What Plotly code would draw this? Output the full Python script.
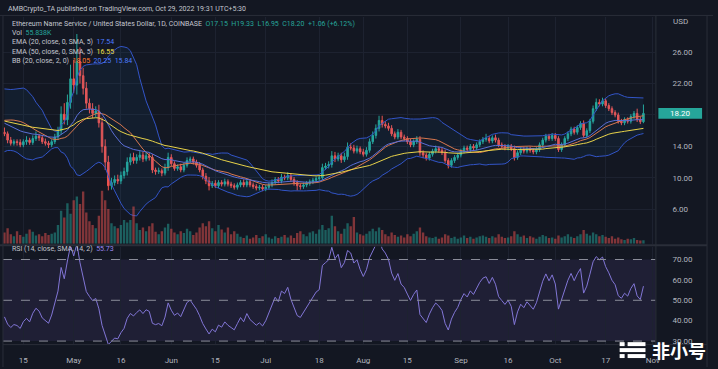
import pandas as pd
import numpy as np
import plotly.graph_objects as go

# ---------------- data (ENS/USD daily, Coinbase) ----------------
start_date = "2022-04-09"

# estimated closes before the visible window (needed to warm up the indicators)
warmup_closes = [21.5, 21.0, 22.0, 20.5, 19.8, 19.5, 20.2, 21.0, 20.4, 19.2,
                 18.6, 18.0, 17.2, 16.5, 16.8, 17.5, 16.2, 17.0, 17.4, 16.8,
                 18.0, 18.4, 17.8, 17.2, 16.6, 15.8, 15.4, 15.0, 14.6, 15.2,
                 14.6, 14.2, 14.0, 13.6, 13.9, 13.5, 14.2, 14.6, 14.8, 15.2,
                 13.8, 14.0, 14.4, 15.0, 15.6, 16.4, 17.6, 19.0, 20.2, 19.6,
                 20.4, 19.4, 18.8, 19.6, 19.0, 17.8, 16.6, 16.0, 15.6, 15.8]

closes = [15.6, 14.8, 14.4, 14.6, 14.5, 14.2, 14.6, 14.8, 14.5, 15.0,
          15.3, 15.1, 14.6, 14.4, 14.2, 14.6, 15.2, 16.0, 18.1, 17.4,
          19.6, 22.6, 21.8, 24.8, 23.0, 21.4, 19.5, 18.8, 18.2, 18.5,
          17.0, 14.0, 12.0, 9.0, 9.4, 9.8, 9.6, 10.3, 10.8, 12.0,
          12.6, 12.2, 12.6, 12.9, 12.4, 12.8, 12.6, 11.0, 10.8, 10.9,
          10.6, 11.3, 12.6, 11.8, 11.2, 11.4, 11.0, 11.6, 12.2, 12.4,
          12.0, 11.6, 11.0, 10.2, 9.6, 9.0, 9.3, 9.0, 9.4, 9.2,
          9.5, 9.2, 9.0, 8.8, 9.1, 9.4, 9.1, 9.5, 9.1, 8.9,
          8.7, 8.8, 8.6, 8.8, 9.1, 9.4, 9.8, 9.6, 10.1, 10.0,
          10.3, 9.8, 9.4, 9.0, 8.9, 9.1, 9.3, 9.5, 9.7, 9.9,
          10.0, 11.3, 11.5, 11.7, 12.8, 12.4, 12.8, 12.3, 12.7, 13.9,
          13.8, 13.4, 13.7, 13.3, 13.0, 13.5, 14.6, 15.4, 16.3, 17.3,
          16.8, 16.6, 16.3, 15.6, 15.2, 15.8, 15.2, 15.0, 14.6, 14.2,
          14.6, 14.9, 13.2, 12.9, 12.5, 13.0, 13.4, 13.7, 13.5, 13.2,
          12.2, 11.6, 12.2, 12.6, 12.9, 13.4, 13.8, 13.6, 14.0, 13.8,
          14.2, 14.6, 14.9, 15.0, 14.7, 15.1, 14.8, 14.2, 14.0, 13.8,
          14.0, 13.7, 12.6, 13.2, 13.6, 13.4, 13.7, 13.5, 13.3, 13.6,
          14.2, 14.8, 15.3, 15.0, 15.4, 15.0, 13.6, 14.2, 15.0, 15.6,
          16.2, 15.8, 16.4, 16.9, 15.4, 16.0, 17.2, 18.8, 19.6, 19.4,
          19.8, 19.2, 18.8, 18.3, 18.0, 17.2, 17.0, 17.4, 17.2, 17.8,
          18.2, 17.4, 17.14, 18.20]

upper_wicks = [0.6, 0.3, 0.4, 0.3, 0.3, 0.4, 0.3, 0.5, 0.3, 0.4,
               0.6, 0.3, 0.3, 0.4, 0.3, 0.3, 0.4, 0.5, 1.0, 1.4,
               1.0, 1.8, 2.4, 3.5, 1.8, 1.0, 0.8, 0.6, 0.7, 0.6,
               0.8, 0.7, 0.9, 0.8, 0.6, 0.5, 0.6, 0.5, 0.5, 0.6,
               0.5, 0.6, 0.4, 0.5, 0.4, 0.5, 0.4, 0.4, 0.3, 0.4,
               0.3, 0.5, 0.6, 0.4, 0.3, 0.3, 0.4, 0.3, 0.4, 0.3,
               0.3, 0.3, 0.4, 0.3, 0.4, 0.5, 0.3, 0.4, 0.3, 0.3,
               0.4, 0.3, 0.3, 0.3, 0.3, 0.3, 0.4, 0.3, 0.3, 0.3,
               0.3, 0.3, 0.3, 0.3, 0.3, 0.4, 0.3, 0.3, 0.4, 0.3,
               0.4, 0.3, 0.3, 0.3, 0.3, 0.3, 0.3, 0.3, 0.3, 0.3,
               0.3, 0.5, 0.4, 0.4, 0.6, 0.5, 0.4, 0.4, 0.5, 0.6,
               0.5, 0.4, 0.4, 0.3, 0.4, 0.4, 0.4, 0.5, 0.5, 0.6,
               0.6, 0.4, 0.4, 0.4, 0.3, 0.4, 0.3, 0.3, 0.3, 0.4,
               0.3, 0.4, 0.4, 0.3, 0.3, 0.3, 0.3, 0.4, 0.3, 0.3,
               0.4, 0.3, 0.3, 0.3, 0.3, 0.3, 0.3, 0.3, 0.3, 0.3,
               0.3, 0.3, 0.3, 0.6, 0.3, 0.3, 0.4, 0.3, 0.3, 0.3,
               0.3, 0.3, 0.4, 0.3, 0.3, 0.3, 0.3, 0.3, 0.3, 0.3,
               0.3, 0.3, 0.3, 0.3, 0.3, 0.3, 0.3, 0.3, 0.3, 0.3,
               0.3, 0.3, 0.3, 0.3, 0.4, 0.3, 0.3, 0.4, 0.5, 0.4,
               0.4, 0.3, 0.3, 0.3, 0.3, 0.3, 0.3, 0.3, 0.3, 0.3,
               0.3, 0.6, 0.4, 1.13]

lower_wicks = [0.3, 0.4, 0.3, 0.3, 0.4, 0.3, 0.3, 0.4, 0.3, 0.3,
               0.3, 0.4, 0.3, 0.3, 0.4, 0.3, 0.3, 0.4, 0.5, 0.6,
               0.7, 0.8, 1.0, 1.2, 1.0, 0.8, 0.7, 0.6, 0.6, 0.5,
               0.6, 0.8, 1.0, 0.6, 0.5, 0.4, 0.4, 0.4, 0.4, 0.5,
               0.4, 0.4, 0.4, 0.4, 0.4, 0.3, 0.4, 0.4, 0.4, 0.3,
               0.4, 0.3, 0.4, 0.3, 0.3, 0.3, 0.3, 0.3, 0.3, 0.3,
               0.3, 0.3, 0.3, 0.4, 0.4, 0.6, 0.3, 0.3, 0.3, 0.3,
               0.3, 0.3, 0.3, 0.3, 0.3, 0.3, 0.3, 0.3, 0.3, 0.3,
               0.3, 0.3, 0.3, 0.3, 0.3, 0.3, 0.3, 0.3, 0.3, 0.3,
               0.3, 0.3, 0.4, 0.6, 0.4, 0.3, 0.3, 0.3, 0.3, 0.3,
               0.3, 0.3, 0.3, 0.3, 0.4, 0.4, 0.3, 0.4, 0.3, 0.4,
               0.3, 0.3, 0.3, 0.3, 0.3, 0.3, 0.3, 0.3, 0.4, 0.4,
               0.4, 0.3, 0.3, 0.3, 0.3, 0.3, 0.3, 0.3, 0.3, 0.3,
               0.3, 0.3, 0.4, 0.4, 0.3, 0.3, 0.3, 0.3, 0.3, 0.3,
               0.3, 0.4, 0.3, 0.3, 0.3, 0.3, 0.3, 0.3, 0.3, 0.3,
               0.3, 0.3, 0.3, 0.3, 0.3, 0.3, 0.3, 0.3, 0.3, 0.3,
               0.3, 0.3, 0.4, 0.3, 0.3, 0.3, 0.3, 0.3, 0.3, 0.3,
               0.3, 0.3, 0.3, 0.3, 0.3, 0.3, 0.3, 0.3, 0.3, 0.3,
               0.3, 0.3, 0.3, 0.3, 0.3, 0.3, 0.3, 0.3, 0.3, 0.3,
               0.3, 0.3, 0.3, 0.3, 0.3, 0.3, 0.3, 0.3, 0.3, 0.3,
               0.3, 0.3, 0.3, 0.19]

volumes_k = [180, 250, 150, 120, 200, 140, 110, 160, 230, 190,
             130, 150, 120, 170, 140, 160, 180, 300, 530, 420,
             650, 480, 700, 760, 640, 840, 500, 360, 300, 250,
             450, 850, 700, 560, 330, 280, 250, 300, 380, 340,
             380, 600, 330, 220, 260, 200, 280, 330, 190, 150,
             200, 260, 320, 240, 180, 150, 200, 170, 240, 200,
             140, 180, 260, 330, 280, 360, 250, 200, 300, 230,
             180, 260, 150, 200, 160, 110, 90, 130, 80, 100,
             140, 90, 120, 150, 100, 80, 120, 90, 110, 140,
             100, 130, 90, 170, 200, 150, 120, 180, 200, 160,
             230, 300, 220, 250, 450, 280, 200, 160, 240, 330,
             280, 430, 180, 150, 130, 160, 200, 240, 200, 260,
             220, 150, 120, 180, 140, 110, 130, 100, 150, 120,
             160, 200, 260, 180, 120, 100, 90, 110, 80, 100,
             150, 130, 90, 110, 80, 100, 130, 90, 110, 80,
             100, 120, 130, 110, 90, 120, 100, 150, 110, 90,
             100, 120, 200, 150, 110, 130, 90, 120, 100, 80,
             110, 140, 120, 90, 100, 80, 130, 100, 120, 150,
             110, 90, 120, 150, 220, 160, 130, 180, 150, 120,
             140, 110, 90, 120, 80, 100, 70, 60, 80, 70,
             90, 60, 50, 56]

x_tick_dates = ["2022-04-15", "2022-05-01", "2022-05-16", "2022-06-01", "2022-06-15",
                "2022-07-01", "2022-07-18", "2022-08-01", "2022-08-15", "2022-09-01",
                "2022-09-16", "2022-10-01", "2022-10-17", "2022-11-01"]
x_tick_text = ["15", "May", "16", "Jun", "15", "Jul", "18", "Aug", "15", "Sep",
               "16", "Oct", "17", "Nov"]
price_ticks = [6, 10, 14, 18, 22, 26]
price_tick_text = ["6.00", "10.00", "14.00", "", "22.00", "26.00"]
rsi_ticks = [30, 40, 50, 60, 70]
rsi_tick_text = ["30.00", "40.00", "50.00", "60.00", "70.00"]

# ---------------- derived series ----------------
n = len(closes)
dates = pd.date_range(start_date, periods=n, freq="D")
opens = [warmup_closes[-1]] + closes[:-1]
highs = [max(o, c) + w for o, c, w in zip(opens, closes, upper_wicks)]
lows = [min(o, c) - w for o, c, w in zip(opens, closes, lower_wicks)]

s = pd.Series(warmup_closes + closes, dtype=float)
ema20 = s.ewm(span=20, adjust=False).mean().iloc[-n:].values
ema50 = s.ewm(span=50, adjust=False).mean().iloc[-n:].values
basis = s.rolling(20).mean()
dev = s.rolling(20).std(ddof=0)
bb_up = (basis + 2 * dev).iloc[-n:].values
bb_lo = (basis - 2 * dev).iloc[-n:].values
bb_mid = basis.iloc[-n:].values
delta = s.diff()
gain = delta.clip(lower=0).ewm(alpha=1 / 14, adjust=False).mean()
loss = (-delta.clip(upper=0)).ewm(alpha=1 / 14, adjust=False).mean()
rsi = (100 - 100 / (1 + gain / loss)).iloc[-n:].values

UP = "#26a69a"
DN = "#ef5350"
vol_colors = ["rgba(38,166,154,0.5)" if c >= o else "rgba(239,83,80,0.5)" for o, c in zip(opens, closes)]

W, H = 718, 369
def PX(x):
    return x / W
def PY(y):
    return 1 - y / H

x_left = pd.Timestamp(start_date) - pd.Timedelta(days=0.47)
x_right = pd.Timestamp(start_date) + pd.Timedelta(days=206.8)

fig = go.Figure()

# Bollinger fill + bands
fig.add_trace(go.Scatter(x=dates, y=bb_up, mode="lines", line=dict(color="#3355c8", width=1),
                         xaxis="x", yaxis="y", hoverinfo="skip"))
fig.add_trace(go.Scatter(x=dates, y=bb_lo, mode="lines", line=dict(color="#3355c8", width=1),
                         fill="tonexty", fillcolor="rgba(33,150,243,0.06)",
                         xaxis="x", yaxis="y", hoverinfo="skip"))
fig.add_trace(go.Scatter(x=dates, y=bb_mid, mode="lines", line=dict(color="#d9784f", width=1),
                         xaxis="x", yaxis="y", hoverinfo="skip"))

# volume
fig.add_trace(go.Bar(x=dates, y=volumes_k, marker=dict(color=vol_colors, line=dict(width=0)),
                     xaxis="x", yaxis="y3", hoverinfo="skip"))

# EMAs
fig.add_trace(go.Scatter(x=dates, y=ema20, mode="lines", line=dict(color="#5b6fd6", width=1),
                         xaxis="x", yaxis="y", hoverinfo="skip"))
fig.add_trace(go.Scatter(x=dates, y=ema50, mode="lines", line=dict(color="#e8d34a", width=1),
                         xaxis="x", yaxis="y", hoverinfo="skip"))

# candles
fig.add_trace(go.Candlestick(x=dates, open=opens, high=highs, low=lows, close=closes,
                             increasing=dict(line=dict(color=UP, width=1), fillcolor=UP),
                             decreasing=dict(line=dict(color=DN, width=1), fillcolor=DN),
                             whiskerwidth=0, xaxis="x", yaxis="y", hoverinfo="skip"))

# RSI
fig.add_trace(go.Scatter(x=dates, y=rsi, mode="lines", line=dict(color="#8276d6", width=1),
                         xaxis="x2", yaxis="y2", hoverinfo="skip"))

font_fam = "Roboto, Noto Sans, DejaVu Sans, sans-serif"
axis_font = dict(family=font_fam, size=8, color="#b2b5be")
grid = "#1d2230"

fig.update_layout(
    width=W, height=H,
    margin=dict(l=0, r=0, t=0, b=0),
    paper_bgcolor="#131722", plot_bgcolor="#131722",
    showlegend=False, bargap=0.25,
    xaxis=dict(domain=[PX(3), PX(660)], range=[x_left, x_right], anchor="y",
               rangeslider=dict(visible=False), showticklabels=False,
               tickvals=x_tick_dates, showgrid=True, gridcolor=grid, gridwidth=1,
               zeroline=False, showline=False),
    xaxis2=dict(domain=[PX(3), PX(660)], range=[x_left, x_right], anchor="y2", matches="x",
                tickvals=x_tick_dates, ticktext=x_tick_text, tickfont=axis_font,
                ticks="", ticklabelstandoff=10, showgrid=True, gridcolor=grid,
                zeroline=False, showline=False),
    yaxis=dict(domain=[PY(245), PY(17)], range=[1.62, 30.48], side="right", anchor="x",
               tickvals=price_ticks, ticktext=price_tick_text, tickfont=axis_font,
               ticks="", ticklabelstandoff=16, showgrid=True, gridcolor=grid,
               zeroline=False, showline=False),
    yaxis3=dict(overlaying="y", range=[0, 3650], visible=False, anchor="x"),
    yaxis2=dict(domain=[PY(346), PY(248)], range=[28.5, 76.3], side="right", anchor="x2",
                tickvals=rsi_ticks, ticktext=rsi_tick_text, tickfont=axis_font,
                ticks="", ticklabelstandoff=16, showgrid=False,
                zeroline=False, showline=False),
)

shapes = []
# RSI band fill and level lines
shapes.append(dict(type="rect", xref="x2 domain", yref="y2", x0=0, x1=1, y0=30, y1=70,
                   fillcolor="rgba(126,87,194,0.12)", line=dict(width=0), layer="below"))
for lv in (70, 50, 30):
    shapes.append(dict(type="line", xref="x2 domain", yref="y2", x0=0, x1=1, y0=lv, y1=lv,
                       line=dict(color="#8a8d99", width=1, dash="dash")))
# frame lines
shapes.append(dict(type="line", xref="paper", yref="paper", x0=0, x1=1, y0=PY(15.5), y1=PY(15.5),
                   line=dict(color="#2a2e39", width=1)))
shapes.append(dict(type="line", xref="paper", yref="paper", x0=0, x1=PX(712), y0=PY(246.5), y1=PY(246.5),
                   line=dict(color="#2a2e39", width=2)))
shapes.append(dict(type="line", xref="paper", yref="paper", x0=PX(660.5), x1=PX(660.5), y0=PY(346), y1=PY(15.5),
                   line=dict(color="#2a2e39", width=1)))
shapes.append(dict(type="line", xref="paper", yref="paper", x0=PX(712), x1=PX(712), y0=0, y1=PY(15.5),
                   line=dict(color="#2a2e39", width=1)))
shapes.append(dict(type="line", xref="paper", yref="paper", x0=PX(3), x1=PX(3), y0=0, y1=PY(15.5),
                   line=dict(color="#2a2e39", width=1)))
shapes.append(dict(type="line", xref="paper", yref="paper", x0=PX(3), x1=PX(712), y0=PY(346.5), y1=PY(346.5),
                   line=dict(color="#2a2e39", width=1)))
# last price tag
shapes.append(dict(type="rect", xref="paper", yref="y", x0=PX(663), x1=PX(707),
                   y0=closes[-1] - 0.68, y1=closes[-1] + 0.68,
                   fillcolor=UP, line=dict(width=0)))
# watermark icon
for (x0, x1, y0, y1) in [(624, 629, 344, 348), (632, 650, 344, 348),
                         (624, 650, 350, 354),
                         (624, 629, 356, 360), (632, 650, 356, 360)]:
    shapes.append(dict(type="rect", xref="paper", yref="paper", x0=PX(x0), x1=PX(x1),
                       y0=PY(y1), y1=PY(y0), fillcolor="white", line=dict(width=0)))
fig.update_layout(shapes=shapes)

lab = "#c3c6ce"
def ann(x, y, text, size=7, color=lab, xanchor="left", **kw):
    return dict(x=PX(x), y=PY(y), xref="paper", yref="paper", text=text, showarrow=False,
                xanchor=xanchor, yanchor="middle", font=dict(family=font_fam, size=size, color=color), **kw)

def c(v, col):
    return f"<span style='color:{col}'>{v}</span>"

annotations = [
    ann(6, 9.5, "AMBCrypto_TA published on TradingView.com, Oct 29, 2022 19:31 UTC+5:30", size=7),
    ann(10, 24, "Ethereum Name Service / United States Dollar, 1D, COINBASE  "
        + c("O17.15", UP) + "  " + c("H19.33", UP) + "  " + c("L16.95", UP) + "  "
        + c("C18.20", UP) + "  " + c("+1.06 (+6.12%)", UP), size=7),
    ann(10, 33, "Vol  " + c("55.838K", UP), size=7),
    ann(10, 42.5, "EMA (20, close, 0, SMA, 5)  " + c("17.54", "#4d7cff"), size=7),
    ann(10, 52, "EMA (50, close, 0, SMA, 5)  " + c("16.55", "#f5e04a"), size=7),
    ann(10, 61.5, "BB (20, close, 2, 0)  " + c("18.05", "#ff7a2f") + "  " + c("20.25", "#4d7cff")
        + "  " + c("15.84", "#4d7cff"), size=7),
    ann(10, 250.5, "RSI (14, close, SMA, 14, 2)  " + c("55.73", "#9a86ee"), size=7),
    ann(676, 22, "USD", size=8, color="#b2b5be"),
]
annotations.append(dict(x=PX(685), y=closes[-1], xref="paper", yref="y", text="18.20", showarrow=False,
                        xanchor="center", yanchor="middle",
                        font=dict(family=font_fam, size=8, color="white")))
annotations.append(dict(x=PX(655), y=PY(352), xref="paper", yref="paper", text="<b>非小号</b>",
                        showarrow=False, xanchor="left", yanchor="middle",
                        font=dict(family="Noto Sans CJK SC", size=18, color="white")))
fig.update_layout(annotations=annotations)

fig.write_html("out.html",
               config={"displayModeBar": False},
               post_script="document.body.style.margin='0';document.body.style.overflow='hidden';")
